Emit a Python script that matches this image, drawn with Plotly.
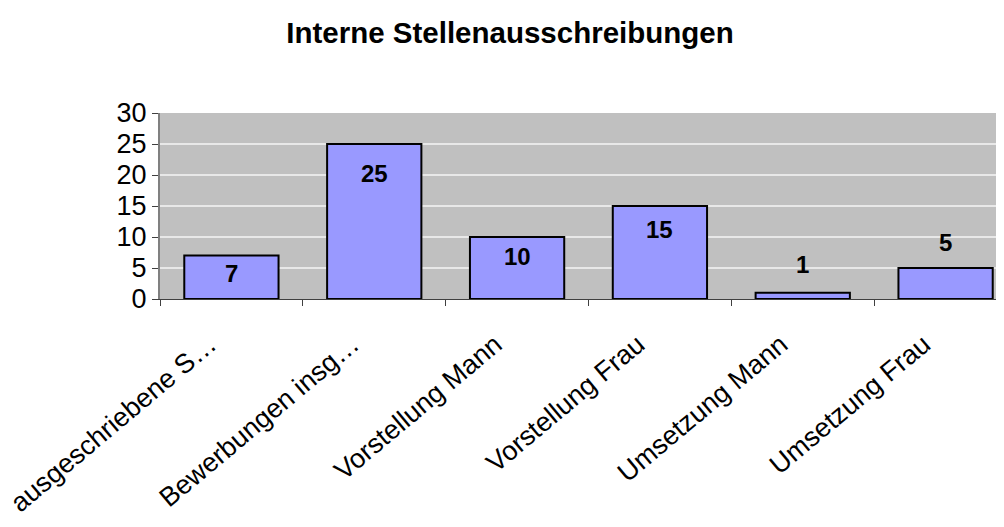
import plotly.graph_objects as go

categories = ["ausgeschriebene S…", "Bewerbungen insg…", "Vorstellung Mann",
              "Vorstellung Frau", "Umsetzung Mann", "Umsetzung Frau"]
values = [7, 25, 10, 15, 1, 5]
label_shift = [-18, -29, -19, -23, 28, 26]
y_ticks = [0, 5, 10, 15, 20, 25, 30]

FONT = "Liberation Sans, Arial"

fig = go.Figure()
fig.add_trace(go.Bar(
    x=categories, y=values,
    marker=dict(color="#9999FF", line=dict(color="black", width=2)),
    width=0.66, showlegend=False, hoverinfo="x+y"))

for c, v, s in zip(categories, values, label_shift):
    fig.add_annotation(x=c, y=v, yshift=s, text=f"<b>{v}</b>", showarrow=False,
                       font=dict(family=FONT, size=24, color="black"))

fig.update_layout(
    width=1004, height=527,
    paper_bgcolor="white", plot_bgcolor="#C0C0C0",
    margin=dict(l=152, r=0, t=105, b=236, autoexpand=False),
    title=dict(text="<b>Interne Stellenausschreibungen</b>", x=0.5, xanchor="center",
               y=1 - 25 / 527, yanchor="middle", yref="container",
               font=dict(family=FONT, size=29.5, color="black")),
    bargap=0.34,
)
fig.update_xaxes(
    type="category", range=[-0.5, 5.465], tickangle=-40, automargin=False,
    tickfont=dict(family=FONT, size=27, color="black"),
    ticks="outside", tickson="boundaries", ticklen=6, tickcolor="#404040",
    ticklabelstandoff=18, ticklabelshift=-22,
    showline=True, linecolor="#404040", linewidth=1, mirror=False,
    showgrid=False, fixedrange=True)
fig.update_yaxes(
    range=[0, 30], tickvals=y_ticks, automargin=False,
    tickfont=dict(family=FONT, size=27, color="black"),
    ticks="outside", ticklen=6, tickcolor="#404040",
    showline=True, linecolor="#808080", linewidth=2, mirror=True,
    showgrid=True, gridcolor="#E8E8E8", gridwidth=1.5,
    zeroline=False, fixedrange=True)

fig.write_html("out.html")
